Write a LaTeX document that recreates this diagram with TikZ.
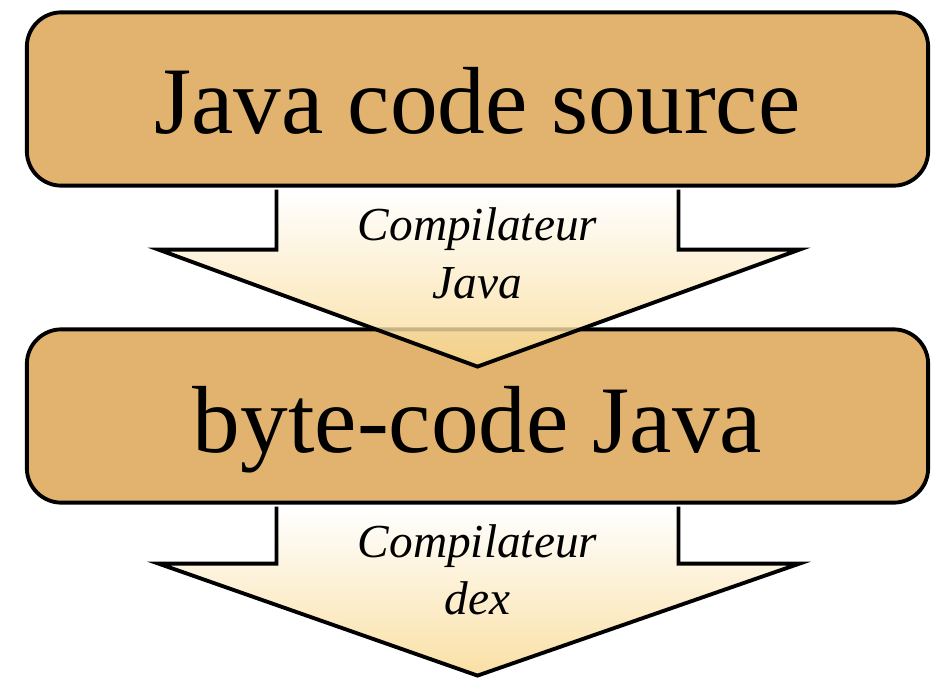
\documentclass[tikz,border=0pt]{standalone}
\usepackage{fontspec}
\setmainfont{Liberation Serif}
\usetikzlibrary{calc}
\definecolor{boxfill}{HTML}{E2B36F}
\definecolor{arrowbot}{HTML}{F8D88E}
\begin{document}
\begin{tikzpicture}[x=0.75pt,y=-0.75pt,
 box/.style={draw=black, line width=2.9pt, rounded corners=26pt, fill=boxfill, minimum width=676pt, minimum height=130pt, inner sep=0pt},
 big/.style={font=\fontsize{71.5}{80}\selectfont, anchor=base, inner sep=0pt},
 small/.style={font=\fontsize{35.5}{40}\selectfont\itshape, anchor=base, inner sep=0pt},
 arrowline/.style={draw=black, line width=2.9pt, line join=miter},
 arrowfill/.style={top color=white, bottom color=arrowbot, fill opacity=0.8}]
\useasboundingbox (0,0) rectangle (933,682);
\node[box] (b1) at (477.5,99) {};
\node[box] (b2) at (477.5,416) {};
% arrow 1
\coordinate (a1) at ($(b1.south)+(0,2)$);
\shade[arrowfill] ($(a1)+(-201,0)$) -- ($(a1)+(-201,60)$) -- ($(a1)+(-319,60)$) -- ($(a1)+(0,177)$) -- ($(a1)+(322,60)$) -- ($(a1)+(201,60)$) -- ($(a1)+(201,0)$) -- cycle;
\draw[arrowline] ($(a1)+(-201,0)$) -- ($(a1)+(-201,60)$) -- ($(a1)+(-319,60)$) -- ($(a1)+(0,177)$) -- ($(a1)+(322,60)$) -- ($(a1)+(201,60)$) -- ($(a1)+(201,0)$);
% arrow 2
\coordinate (a2) at ($(b2.south)+(0,2)$);
\shade[arrowfill] ($(a2)+(-201,0)$) -- ($(a2)+(-201,57)$) -- ($(a2)+(-319,57)$) -- ($(a2)+(0,169)$) -- ($(a2)+(322,57)$) -- ($(a2)+(201,57)$) -- ($(a2)+(201,0)$) -- cycle;
\draw[arrowline] ($(a2)+(-201,0)$) -- ($(a2)+(-201,57)$) -- ($(a2)+(-319,57)$) -- ($(a2)+(0,169)$) -- ($(a2)+(322,57)$) -- ($(a2)+(201,57)$) -- ($(a2)+(201,0)$);
% labels
\node[big] (t1) at (477.5,133) {Java code source};
\node[big] (t2) at (477.5,452) {byte-code Java};
\node[small] (c1) at (477.5,240) {Compilateur};
\node[small] (c2) at (477.5,298) {Java};
\node[small] (c3) at (477.5,557) {Compilateur};
\node[small] (c4) at (477.5,614) {dex};
\end{tikzpicture}
\end{document}
